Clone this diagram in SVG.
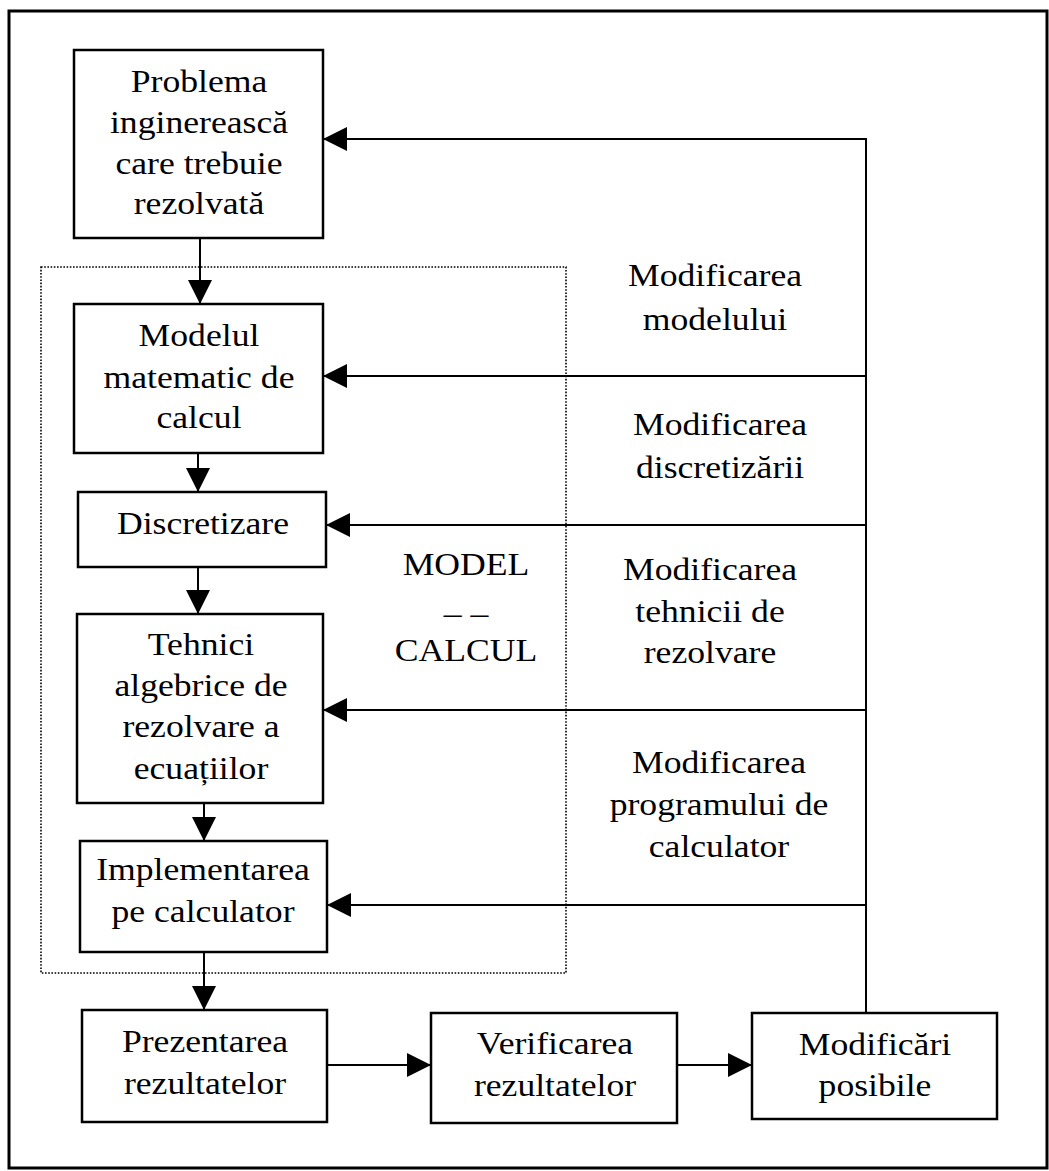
<svg xmlns="http://www.w3.org/2000/svg" width="1049" height="1171" viewBox="0 0 1049 1171">
  <defs>
    <style>
      .frame { fill: none; stroke: #000; stroke-width: 3; }
      .box { fill: #fff; stroke: #000; stroke-width: 2.5; }
      .zone { fill: none; stroke: #000; stroke-width: 1.6; stroke-dasharray: 1.6 1.6; }
      .wire { fill: none; stroke: #000; stroke-width: 2; }
      .lbl { font-family: "Liberation Serif", "Times New Roman", serif; font-size: 31px; fill: #000; text-anchor: middle; }
    </style>
    <marker id="arrow" viewBox="0 0 24 24" refX="24" refY="12" markerWidth="24" markerHeight="24" markerUnits="userSpaceOnUse" orient="auto">
      <path d="M0,0 L24,12 L0,24 Z" fill="#000"/>
    </marker>
  </defs>

  <rect width="1049" height="1171" fill="#fff"/>
  <!-- outer frame -->
  <rect class="frame" x="9" y="11" width="1038" height="1157"/>

  <!-- MODEL - CALCUL zone -->
  <g id="zone-model-calcul">
    <rect class="zone" x="41" y="267" width="525" height="706"/>
    <g transform="translate(466,0) scale(1.15,1)">
      <text class="lbl" x="0" y="575">MODEL</text>
      <text class="lbl" x="0" y="613">_ _</text>
      <text class="lbl" x="0" y="661">CALCUL</text>
    </g>
  </g>

  <!-- connectors -->
  <g id="connectors">
    <line class="wire" x1="200" y1="238" x2="200" y2="304" marker-end="url(#arrow)"/>
    <line class="wire" x1="198" y1="453" x2="198" y2="492" marker-end="url(#arrow)"/>
    <line class="wire" x1="198" y1="567" x2="198" y2="614" marker-end="url(#arrow)"/>
    <line class="wire" x1="204" y1="803" x2="204" y2="841" marker-end="url(#arrow)"/>
    <line class="wire" x1="204" y1="952" x2="204" y2="1010" marker-end="url(#arrow)"/>
    <line class="wire" x1="327" y1="1065" x2="431" y2="1065" marker-end="url(#arrow)"/>
    <line class="wire" x1="677" y1="1065" x2="752" y2="1065" marker-end="url(#arrow)"/>
    <!-- feedback loop -->
    <line class="wire" x1="866" y1="1013" x2="866" y2="138"/>
    <line class="wire" x1="867" y1="139" x2="323" y2="139" marker-end="url(#arrow)"/>
    <line class="wire" x1="867" y1="376" x2="323" y2="376" marker-end="url(#arrow)"/>
    <line class="wire" x1="867" y1="525" x2="326" y2="525" marker-end="url(#arrow)"/>
    <line class="wire" x1="867" y1="710" x2="323" y2="710" marker-end="url(#arrow)"/>
    <line class="wire" x1="867" y1="905" x2="327" y2="905" marker-end="url(#arrow)"/>
  </g>

  <!-- feedback labels -->
  <g id="label-model" transform="translate(715,0) scale(1.15,1)">
    <text class="lbl" x="0" y="286">Modificarea</text>
    <text class="lbl" x="0" y="330">modelului</text>
  </g>
  <g id="label-discretizare" transform="translate(720,0) scale(1.15,1)">
    <text class="lbl" x="0" y="435">Modificarea</text>
    <text class="lbl" x="0" y="478">discretizării</text>
  </g>
  <g id="label-tehnici" transform="translate(710,0) scale(1.15,1)">
    <text class="lbl" x="0" y="580">Modificarea</text>
    <text class="lbl" x="0" y="622">tehnicii de</text>
    <text class="lbl" x="0" y="663">rezolvare</text>
  </g>
  <g id="label-program" transform="translate(719,0) scale(1.15,1)">
    <text class="lbl" x="0" y="773">Modificarea</text>
    <text class="lbl" x="0" y="815">programului de</text>
    <text class="lbl" x="0" y="857">calculator</text>
  </g>

  <!-- nodes -->
  <g id="node-problema">
    <rect class="box" x="74" y="50" width="249" height="188"/>
    <g transform="translate(199,0) scale(1.15,1)">
      <text class="lbl" x="0" y="92">Problema</text>
      <text class="lbl" x="0" y="133">inginerească</text>
      <text class="lbl" x="0" y="174">care trebuie</text>
      <text class="lbl" x="0" y="214">rezolvată</text>
    </g>
  </g>
  <g id="node-modelul">
    <rect class="box" x="74" y="304" width="249" height="149"/>
    <g transform="translate(199,0) scale(1.15,1)">
      <text class="lbl" x="0" y="346">Modelul</text>
      <text class="lbl" x="0" y="388">matematic de</text>
      <text class="lbl" x="0" y="428">calcul</text>
    </g>
  </g>
  <g id="node-discretizare">
    <rect class="box" x="78" y="492" width="248" height="75"/>
    <g transform="translate(203,0) scale(1.15,1)">
      <text class="lbl" x="0" y="534">Discretizare</text>
    </g>
  </g>
  <g id="node-tehnici">
    <rect class="box" x="77" y="614" width="246" height="189"/>
    <g transform="translate(201,0) scale(1.15,1)">
      <text class="lbl" x="0" y="655">Tehnici</text>
      <text class="lbl" x="0" y="696">algebrice de</text>
      <text class="lbl" x="0" y="737">rezolvare a</text>
      <text class="lbl" x="0" y="779">ecuațiilor</text>
    </g>
  </g>
  <g id="node-implementarea">
    <rect class="box" x="80" y="841" width="247" height="111"/>
    <g transform="translate(203,0) scale(1.15,1)">
      <text class="lbl" x="0" y="880">Implementarea</text>
      <text class="lbl" x="0" y="922">pe calculator</text>
    </g>
  </g>
  <g id="node-prezentarea">
    <rect class="box" x="82" y="1010" width="245" height="112"/>
    <g transform="translate(205,0) scale(1.15,1)">
      <text class="lbl" x="0" y="1052">Prezentarea</text>
      <text class="lbl" x="0" y="1094">rezultatelor</text>
    </g>
  </g>
  <g id="node-verificarea">
    <rect class="box" x="431" y="1013" width="246" height="110"/>
    <g transform="translate(555,0) scale(1.15,1)">
      <text class="lbl" x="0" y="1054">Verificarea</text>
      <text class="lbl" x="0" y="1096">rezultatelor</text>
    </g>
  </g>
  <g id="node-modificari">
    <rect class="box" x="752" y="1013" width="245" height="106"/>
    <g transform="translate(875,0) scale(1.15,1)">
      <text class="lbl" x="0" y="1055">Modificări</text>
      <text class="lbl" x="0" y="1096">posibile</text>
    </g>
  </g>
</svg>
